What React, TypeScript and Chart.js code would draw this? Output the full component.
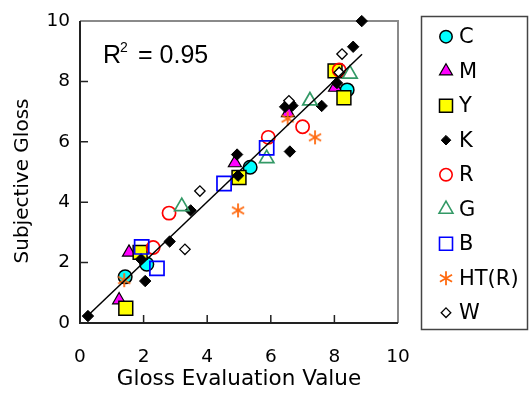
import React, { useEffect, useRef } from 'react';
import { Chart, registerables } from 'chart.js';

Chart.register(...registerables);

// ---- data ----
const seriesNames = ['C', 'M', 'Y', 'K', 'R', 'G', 'B', 'HT(R)', 'W'];

const cX = [1.42, 2.1, 5.35, 8.4];
const cY = [1.53, 1.95, 5.16, 7.72];

const mX = [1.23, 1.54, 4.87, 6.54, 8.02];
const mY = [0.76, 2.34, 5.3, 6.96, 7.8];

const yX = [1.44, 1.89, 5.0, 8.02, 8.3];
const yY = [0.49, 2.34, 4.82, 8.35, 7.46];

const kX = [0.25, 1.92, 2.05, 2.82, 3.48, 4.97, 4.94, 6.45, 6.6, 6.68, 6.6, 7.6, 8.08, 8.59, 8.86];
const kY = [0.23, 2.11, 1.39, 2.7, 3.73, 4.88, 5.58, 7.16, 7.3, 7.2, 5.68, 7.19, 7.95, 9.15, 10.0];

const rX = [2.3, 2.8, 5.92, 7.0, 8.15];
const rY = [2.5, 3.64, 6.15, 6.5, 8.38];

const gX = [3.2, 5.87, 7.23, 8.49];
const gY = [3.86, 5.45, 7.36, 8.25];

const bX = [1.94, 2.42, 4.53, 5.87];
const bY = [2.52, 1.81, 4.62, 5.8];

const htX = [1.39, 4.97, 6.53, 7.39];
const htY = [1.42, 3.73, 6.77, 6.15];

const wX = [3.3, 3.77, 6.57, 8.15, 8.24];
const wY = [2.44, 4.37, 7.36, 8.3, 8.91];

const trendX = [0.2, 8.87];
const trendY = [0.2, 8.9];

const innerTicks = [2, 4, 6, 8];
const r2Value = '0.95';
const xTitle = 'Gloss Evaluation Value';
const yTitle = 'Subjective Gloss';

const FONT = 'DejaVu Sans';
const ORANGE = '#FF6A10';
const GREEN = '#339966';

function makeAsterisk(r: number, color: string, lw: number): HTMLCanvasElement {
  const s = Math.ceil(2 * r + lw + 2);
  const c = document.createElement('canvas');
  c.width = s;
  c.height = s;
  const ctx = c.getContext('2d')!;
  ctx.strokeStyle = color;
  ctx.lineWidth = lw;
  const cx = s / 2;
  const cy = s / 2;
  for (const a of [90, 30, -30]) {
    const rad = (a * Math.PI) / 180;
    ctx.beginPath();
    ctx.moveTo(cx - Math.cos(rad) * r, cy - Math.sin(rad) * r);
    ctx.lineTo(cx + Math.cos(rad) * r, cy + Math.sin(rad) * r);
    ctx.stroke();
  }
  return c;
}

type Kind = 'circle' | 'triangle' | 'rect' | 'rectRot' | 'star';

function drawMarker(
  ctx: CanvasRenderingContext2D,
  kind: Kind,
  x: number,
  y: number,
  r: number,
  fill: string | null,
  stroke: string,
  lw: number
) {
  ctx.save();
  ctx.lineWidth = lw;
  ctx.strokeStyle = stroke;
  ctx.beginPath();
  if (kind === 'circle') {
    ctx.arc(x, y, r, 0, Math.PI * 2);
  } else if (kind === 'triangle') {
    ctx.moveTo(x, y - r);
    ctx.lineTo(x + r * 0.866, y + r * 0.5);
    ctx.lineTo(x - r * 0.866, y + r * 0.5);
    ctx.closePath();
  } else if (kind === 'rect') {
    ctx.rect(x - r, y - r, 2 * r, 2 * r);
  } else if (kind === 'rectRot') {
    ctx.moveTo(x, y - r);
    ctx.lineTo(x + r, y);
    ctx.lineTo(x, y + r);
    ctx.lineTo(x - r, y);
    ctx.closePath();
  } else {
    for (const a of [90, 30, -30]) {
      const rad = (a * Math.PI) / 180;
      ctx.moveTo(x - Math.cos(rad) * r, y - Math.sin(rad) * r);
      ctx.lineTo(x + Math.cos(rad) * r, y + Math.sin(rad) * r);
    }
  }
  if (fill && kind !== 'star') {
    ctx.fillStyle = fill;
    ctx.fill();
  }
  ctx.stroke();
  ctx.restore();
}

const legendSpec: { kind: Kind; r: number; fill: string | null; stroke: string; lw: number }[] = [
  { kind: 'circle', r: 6.2, fill: '#00FFFF', stroke: '#000', lw: 1.5 },
  { kind: 'triangle', r: 7.5, fill: '#FF00FF', stroke: '#000', lw: 1.2 },
  { kind: 'rect', r: 6.5, fill: '#FFFF00', stroke: '#000', lw: 1.5 },
  { kind: 'rectRot', r: 4.8, fill: '#000', stroke: '#000', lw: 1 },
  { kind: 'circle', r: 6.2, fill: null, stroke: '#FF0000', lw: 1.6 },
  { kind: 'triangle', r: 8, fill: null, stroke: GREEN, lw: 1.6 },
  { kind: 'rect', r: 6.5, fill: null, stroke: '#0000FF', lw: 1.6 },
  { kind: 'star', r: 7, fill: null, stroke: ORANGE, lw: 1.8 },
  { kind: 'rectRot', r: 4.8, fill: '#FFF', stroke: '#000', lw: 1.3 },
];

const decorPlugin = {
  id: 'decor',
  beforeDatasetsDraw(chart: any) {
    const { ctx, chartArea } = chart;
    const { left, right, top, bottom } = chartArea;
    const xs = chart.scales.x;
    const ys = chart.scales.y;
    ctx.save();
    ctx.lineWidth = 2;
    ctx.strokeStyle = '#8a8a8a';
    ctx.beginPath();
    ctx.moveTo(left, top);
    ctx.lineTo(right, top);
    ctx.lineTo(right, bottom);
    ctx.stroke();
    ctx.strokeStyle = '#222';
    ctx.beginPath();
    ctx.moveTo(left, top);
    ctx.lineTo(left, bottom);
    ctx.lineTo(right, bottom);
    ctx.stroke();
    ctx.lineWidth = 1.5;
    ctx.beginPath();
    for (const t of innerTicks) {
      const px = xs.getPixelForValue(t);
      ctx.moveTo(px, bottom);
      ctx.lineTo(px, bottom - 8);
      const py = ys.getPixelForValue(t);
      ctx.moveTo(left, py);
      ctx.lineTo(left + 8, py);
    }
    ctx.stroke();
    ctx.restore();
  },
  afterDraw(chart: any) {
    const { ctx, chartArea } = chart;
    ctx.save();
    ctx.fillStyle = '#000';
    ctx.textBaseline = 'alphabetic';
    ctx.textAlign = 'left';
    ctx.font = '25px "Liberation Sans"';
    ctx.fillText('R', 103, 63);
    ctx.font = '14px "Liberation Sans"';
    ctx.fillText('2', 120, 52);
    ctx.font = '25px "Liberation Sans"';
    ctx.fillText('= ' + r2Value, 138, 63);
    ctx.font = `21.5px "${FONT}"`;
    ctx.textAlign = 'center';
    ctx.fillText(xTitle, (chartArea.left + chartArea.right) / 2, 385);
    ctx.save();
    ctx.font = `20px "${FONT}"`;
    ctx.translate(28, 181);
    ctx.rotate(-Math.PI / 2);
    ctx.fillText(yTitle, 0, 0);
    ctx.restore();
    ctx.lineWidth = 1.5;
    ctx.strokeStyle = '#444';
    ctx.strokeRect(421.5, 16.5, 106, 313);
    ctx.font = `21px "${FONT}"`;
    ctx.textAlign = 'left';
    ctx.textBaseline = 'middle';
    seriesNames.forEach((name, i) => {
      const cy = 36.7 + i * 34.5;
      const s = legendSpec[i];
      drawMarker(ctx, s.kind, 446, cy, s.r, s.fill, s.stroke, s.lw);
      ctx.fillStyle = '#000';
      ctx.fillText(name, 459, cy + 1);
    });
    ctx.restore();
  },
};

function pts(xs: number[], ys: number[]) {
  return xs.map((x, i) => ({ x, y: ys[i] }));
}

export default function App() {
  const ref = useRef<HTMLCanvasElement | null>(null);
  useEffect(() => {
    document.body.style.margin = '0';
    const canvas = ref.current!;
    const star = makeAsterisk(7, ORANGE, 1.8);
    const mk = (
      label: string,
      xs: number[],
      ys: number[],
      style: any,
      radius: number,
      fill: string,
      stroke: string,
      lw: number,
      order: number
    ) => ({
      label,
      data: pts(xs, ys),
      showLine: false,
      pointStyle: style,
      pointRadius: radius,
      pointBackgroundColor: fill,
      pointBorderColor: stroke,
      pointBorderWidth: lw,
      backgroundColor: fill,
      borderColor: stroke,
      order,
      clip: false,
    });
    const datasets: any[] = [
      mk(seriesNames[0], cX, cY, 'circle', 6.8, '#00FFFF', '#000', 1.5, 9),
      mk(seriesNames[1], mX, mY, 'triangle', 7.5, '#FF00FF', '#000', 1.2, 8),
      mk(seriesNames[2], yX, yY, 'rect', 9.8, '#FFFF00', '#000', 1.5, 7),
      mk(seriesNames[3], kX, kY, 'rectRot', 5.7, '#000', '#000', 1, 6),
      mk(seriesNames[4], rX, rY, 'circle', 6.6, 'rgba(0,0,0,0)', '#FF0000', 1.7, 5),
      mk(seriesNames[5], gX, gY, 'triangle', 8.3, 'rgba(0,0,0,0)', GREEN, 1.7, 4),
      mk(seriesNames[6], bX, bY, 'rect', 10, 'rgba(0,0,0,0)', '#0000FF', 1.7, 3),
      mk(seriesNames[7], htX, htY, star, 7, ORANGE, ORANGE, 1.8, 2),
      mk(seriesNames[8], wX, wY, 'rectRot', 5.2, '#FFFFFF', '#000', 1.3, 1),
      {
        label: 'trend',
        data: pts(trendX, trendY),
        showLine: true,
        pointRadius: 0,
        borderColor: '#000',
        borderWidth: 1.5,
        order: -1,
        clip: false,
      },
    ];
    const chart = new Chart(canvas, {
      type: 'scatter',
      data: { datasets },
      options: {
        animation: false,
        responsive: false,
        events: [],
        layout: { padding: { left: 0, top: 20, right: 131, bottom: 0 } },
        plugins: { legend: { display: false }, tooltip: { enabled: false } },
        scales: {
          x: {
            type: 'linear',
            min: 0,
            max: 10,
            ticks: { stepSize: 2, padding: 23, color: '#000', font: { family: FONT, size: 18.5 } },
            grid: { display: false, drawTicks: false },
            border: { display: false },
            afterFit: (s: any) => {
              s.height = 73;
            },
          },
          y: {
            type: 'linear',
            min: 0,
            max: 10,
            ticks: { stepSize: 2, padding: 10, color: '#000', font: { family: FONT, size: 18.5 } },
            grid: { display: false, drawTicks: false },
            border: { display: false },
            afterFit: (s: any) => {
              s.width = 80;
            },
          },
        },
      },
      plugins: [decorPlugin],
    });
    return () => chart.destroy();
  }, []);
  return (
    <div style={{ position: 'relative', width: 529, height: 396 }}>
      <canvas ref={ref} width={529} height={396} style={{ display: 'block' }} />
    </div>
  );
}
